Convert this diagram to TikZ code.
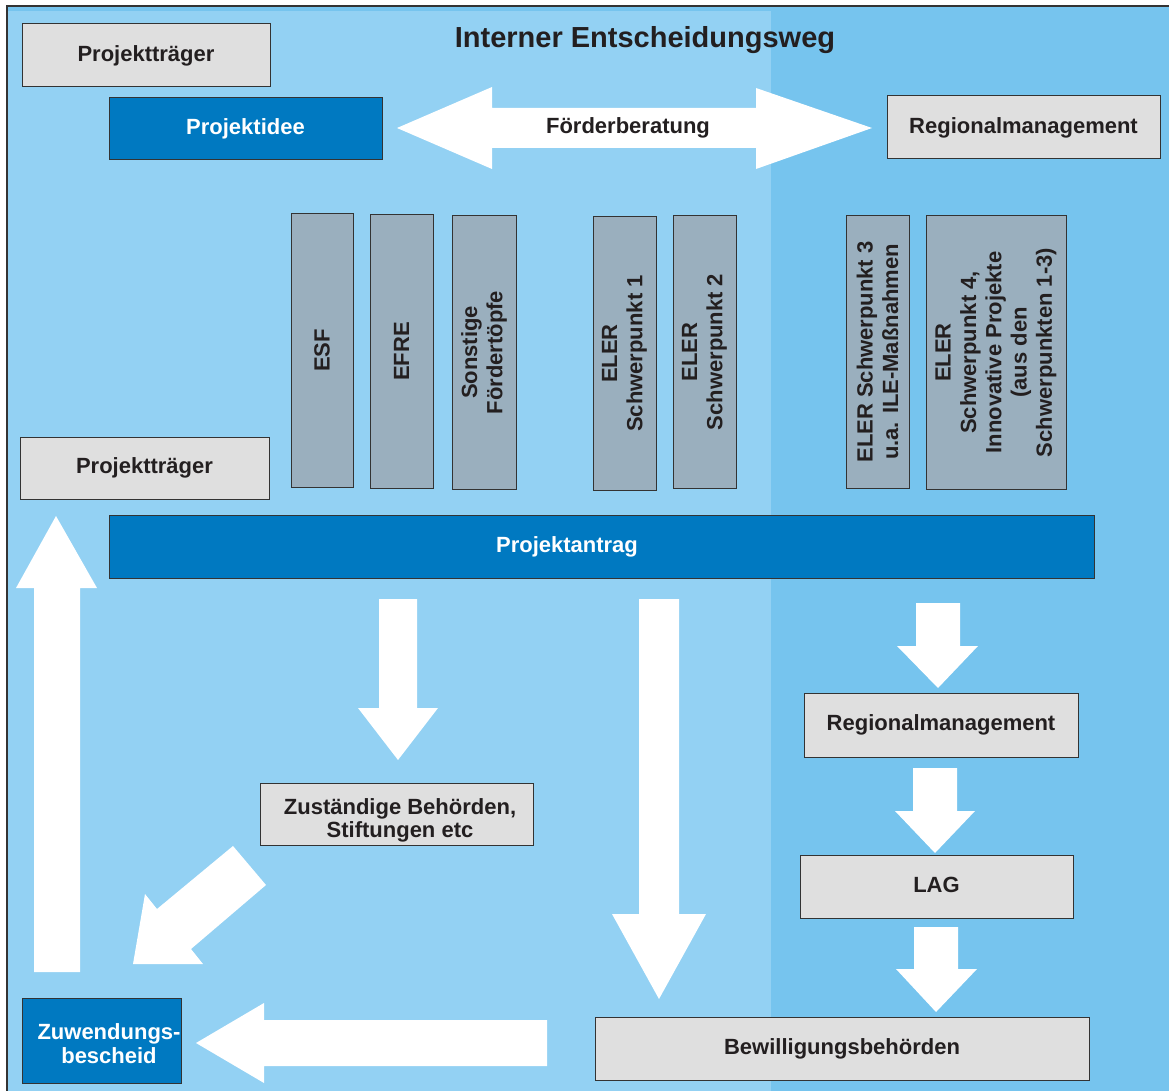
\documentclass[tikz,border=0pt]{standalone}
\usepackage{fontspec}
\setmainfont{Liberation Sans}
\definecolor{bgdark}{RGB}{118,196,238}
\definecolor{bglight}{RGB}{147,209,243}
\definecolor{boxgrey}{RGB}{223,223,223}
\definecolor{pillargrey}{RGB}{154,175,190}
\definecolor{boxblue}{RGB}{0,121,193}
\definecolor{boxline}{RGB}{51,51,51}
\definecolor{txt}{RGB}{35,31,32}
\tikzset{
  greybox/.style={draw=boxline, fill=boxgrey, line width=1pt, inner sep=0pt, text=txt,
    font=\fontsize{22}{24}\selectfont\bfseries, align=center},
  bluebox/.style={draw=boxline, fill=boxblue, line width=1pt, inner sep=0pt, text=white,
    font=\fontsize{22}{24}\selectfont\bfseries, align=center},
  pillar/.style={draw=boxline, fill=pillargrey, line width=1pt, inner sep=0pt, text=txt,
    rotate=90, minimum width=273, font=\fontsize{22}{25.3}\selectfont\bfseries, align=center},
  blockarrow/.style={fill=white, draw=none}
}
\begin{document}
\begin{tikzpicture}[x=1pt,y=1pt,yscale=-1,xscale=1]
		\useasboundingbox (0,0) rectangle (1169,1091);
		% background
		\fill [bgdark] (7,6) rectangle (1169,1091);
		\fill [bglight] (8,11) rectangle (771,1091);
		\draw [boxline, line width=1.2pt] (7,1091) -- (7,6) -- (1169,6);
		\node [text=txt, font=\fontsize{29}{32}\selectfont\bfseries, anchor=base] (titel) at (645,48) {Interner Entscheidungsweg};
		% oberer Teil
		\node [greybox, minimum width=248, minimum height=63, text height=15.75pt, text depth=4.6pt] (traegerA) at (146,55.5) {Projektträger};
		\node [bluebox, minimum width=273, minimum height=62, text height=15.75pt, text depth=4.6pt] (idee) at (245.5,129) {Projektidee};
		\node [greybox, minimum width=273, minimum height=63, text height=15.75pt, text depth=4.6pt] (regioA) at (1023.5,127.5) {Regionalmanagement};
		\fill [blockarrow] (397,128) -- (492,87) -- (492,108) -- (756,108) -- (756,88) -- (872,128) -- (756,169) -- (756,148) -- (492,148) -- (492,169) -- cycle;
		\node [text=txt, font=\fontsize{22}{24}\selectfont\bfseries, text height=15.75pt, text depth=4.6pt] (foerder) at (628,128) {Förderberatung};
		% Foerdertoepfe
		\node [pillar, minimum height=62] (esf) at (322,350.5) {ESF};
		\node [pillar, minimum height=63] (efre) at (401.5,351.5) {EFRE};
		\node [pillar, minimum height=64] (sonst) at (484,352.5) {Sonstige\\Fördertöpfe};
		\node [pillar, minimum height=63] (sp1) at (624.5,353.5) {ELER\\Schwerpunkt 1};
		\node [pillar, minimum height=63] (sp2) at (704.5,352) {ELER\\Schwerpunkt 2};
		\node [pillar, minimum height=63] (sp3) at (877.5,352) {ELER Schwerpunkt 3\\u.a. ILE-Maßnahmen};
		\node [pillar, minimum height=140] (sp4) at (996,352.5) {ELER\\Schwerpunkt 4,\\Innovative Projekte\\(aus den\\Schwerpunkten 1-3)};
		\node [greybox, minimum width=249, minimum height=62, text height=15.75pt, text depth=4.6pt] (traegerB) at (144.5,468) {Projektträger};
		\node [bluebox, minimum width=985, minimum height=63] (antrag) at (601.5,546.5) {};
		\node [text=white, font=\fontsize{22}{24}\selectfont\bfseries, text height=15.75pt, text depth=4.6pt] (antragtext) at (567,547) {Projektantrag};
		% Entscheidungswege
		\node [greybox, minimum width=273, minimum height=62] (zust) at (396.5,814) {};
		\node [text=txt, font=\fontsize{22}{23}\selectfont\bfseries, align=center] (zusttext) at (400,820) {Zuständige Behörden,\\Stiftungen etc};
		\node [greybox, minimum width=274, minimum height=64, text height=15.75pt, text depth=4.6pt] (regioB) at (941,725) {Regionalmanagement};
		\node [greybox, minimum width=273, minimum height=63, text height=15.75pt, text depth=4.6pt] (lag) at (936.5,886.5) {LAG};
		\node [greybox, minimum width=494, minimum height=63, text height=15.75pt, text depth=4.6pt] (bewill) at (842,1048.5) {Bewilligungsbehörden};
		\node [bluebox, minimum width=159, minimum height=85] (zuw) at (101.5,1040.5) {};
		\node [text=white, font=\fontsize{22}{24}\selectfont\bfseries, align=center] (zuwtext) at (109,1044) {Zuwendungs-\\bescheid};
		% Pfeile
		\fill [blockarrow] (56,516) -- (97,588) -- (80,588) -- (80,972) -- (34,972) -- (34,588) -- (16,588) -- cycle;
		\fill [blockarrow] (379,599) -- (417,599) -- (417,708) -- (438,708) -- (398,760) -- (358,708) -- (379,708) -- cycle;
		\fill [blockarrow] (639,599) -- (679,599) -- (679,914) -- (706,914) -- (659,999) -- (612,914) -- (639,914) -- cycle;
		\fill [blockarrow] (916,603) -- (960,603) -- (960,646) -- (978,646) -- (938,688) -- (897,646) -- (916,646) -- cycle;
		\fill [blockarrow] (913,768) -- (957,768) -- (957,811) -- (975,811) -- (935,853) -- (895,811) -- (913,811) -- cycle;
		\fill [blockarrow] (914,927) -- (958,927) -- (958,969) -- (977,969) -- (936,1012) -- (896,969) -- (914,969) -- cycle;
		\fill [blockarrow] (233,846) -- (266,885) -- (191,949) -- (203,964) -- (133,964) -- (145,894) -- (157,909) -- cycle;
		\fill [blockarrow] (547,1020) -- (547,1066) -- (264,1066) -- (264,1083) -- (196,1043) -- (264,1003) -- (264,1020) -- cycle;
\end{tikzpicture}
\end{document}
